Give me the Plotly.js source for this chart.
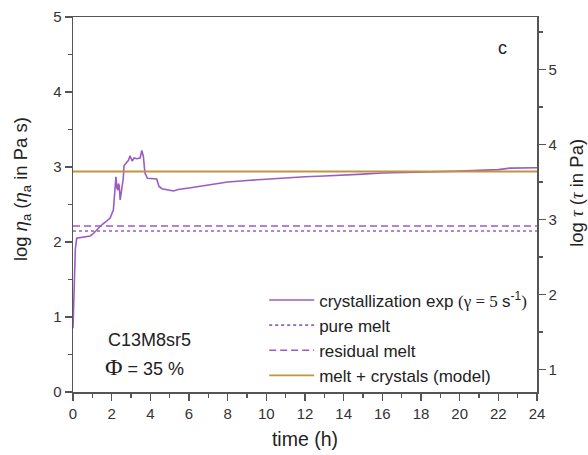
<!DOCTYPE html>
<html>
<head>
<meta charset="utf-8">
<script src="https://cdn.plot.ly/plotly-3.0.1.min.js"></script>
<style>html,body{margin:0;padding:0;background:#fff;}#plot{width:588px;height:455px;}</style>
</head>
<body>
<div id="plot"></div>
<script>
// time (h)
var timeH = [0, 0.05, 0.12, 0.19, 0.5, 0.88, 1.0, 1.23, 1.49, 1.7, 1.92, 2.09, 2.15, 2.22, 2.27, 2.32, 2.35, 2.39, 2.44, 2.52, 2.6, 2.64, 2.75, 2.87, 2.95, 3.06, 3.16, 3.3, 3.47, 3.56, 3.64, 3.72, 3.85, 4.1, 4.33, 4.45, 4.6, 5.2, 5.44, 6, 7, 8, 9, 10, 11, 12, 13, 14, 15, 16, 17, 18, 19, 20, 21, 22, 22.6, 23, 24];
// log eta_a, crystallization experiment
var logEtaExp = [0.85, 1.3, 1.9, 2.05, 2.06, 2.08, 2.10, 2.16, 2.23, 2.27, 2.32, 2.43, 2.6, 2.87, 2.72, 2.69, 2.78, 2.75, 2.56, 2.70, 2.85, 3.02, 3.05, 3.09, 3.15, 3.08, 3.12, 3.11, 3.12, 3.22, 3.14, 2.92, 2.85, 2.84, 2.84, 2.74, 2.71, 2.68, 2.70, 2.72, 2.76, 2.80, 2.82, 2.84, 2.86, 2.87, 2.88, 2.89, 2.905, 2.92, 2.925, 2.93, 2.935, 2.945, 2.955, 2.965, 2.985, 2.985, 2.99];
var timeRange = [0, 24];
var pureMelt = 2.147;
var residualMelt = 2.213;
var meltCrystals = 2.94;
var shearRate = 5;

var purple = '#9b5cc2';
var gold = '#bf9642';
var serif = "'Liberation Serif', 'DejaVu Serif', serif";
var sans = "'Liberation Sans', Arial, sans-serif";

var traces = [
  {x: timeH, y: logEtaExp, mode: 'lines', line: {color: purple, width: 1.6},
   name: 'crystallization exp <span style="font-family:' + serif + ';">(γ = ' + shearRate + ' </span>s<sup>-1</sup><span style="font-family:' + serif + ';">)</span>'},
  {x: timeRange, y: [pureMelt, pureMelt], mode: 'lines', line: {color: purple, width: 1.6, dash: 'dot'}, name: 'pure melt'},
  {x: timeRange, y: [residualMelt, residualMelt], mode: 'lines', line: {color: purple, width: 1.6, dash: '7px,4px'}, name: 'residual melt'},
  {x: timeRange, y: [meltCrystals, meltCrystals], mode: 'lines', line: {color: gold, width: 1.8}, name: 'melt + crystals (model)'},
  {x: [0], y: [null], yaxis: 'y2', mode: 'lines', showlegend: false, hoverinfo: 'skip'}
];

var axisCol = '#555';
var tickFont = {family: sans, size: 15, color: '#333'};
var titleFont = {family: sans, size: 18.5, color: '#222'};

var layout = {
  width: 588, height: 455,
  margin: {l: 73, r: 51, t: 17, b: 63},
  paper_bgcolor: '#fff', plot_bgcolor: '#fff',
  showlegend: true,
  legend: {x: 0.412, xanchor: 'left', y: 0.292, yanchor: 'top', bgcolor: 'rgba(0,0,0,0)', itemwidth: 45,
           font: {family: sans, size: 17, color: '#222'}, tracegroupgap: 0},
  xaxis: {range: timeRange, dtick: 2, tick0: 0, showgrid: false, zeroline: false,
          showline: true, linecolor: axisCol, linewidth: 1.5, mirror: true,
          ticks: 'outside', ticklen: 7, tickwidth: 1.3, tickcolor: axisCol, tickfont: tickFont,
          minor: {dtick: 1, ticks: 'outside', ticklen: 4, tickcolor: axisCol, tickwidth: 1.3},
          title: {text: 'time (h)', font: {family: sans, size: 19.5, color: '#222'}, standoff: 12}},
  yaxis: {range: [0, 5], dtick: 1, showgrid: false, zeroline: false,
          showline: true, linecolor: axisCol, linewidth: 1.5,
          ticks: 'outside', ticklen: 7, tickwidth: 1.3, tickcolor: axisCol, tickfont: tickFont,
          minor: {dtick: 0.5, ticks: 'outside', ticklen: 4, tickcolor: axisCol, tickwidth: 1.3}},
  yaxis2: {overlaying: 'y', side: 'right', range: [Math.log10(shearRate), 5 + Math.log10(shearRate)], dtick: 1, tick0: 0,
           showgrid: false, zeroline: false, showline: true, linecolor: axisCol, linewidth: 1.5,
           ticks: 'outside', ticklen: 7, tickwidth: 1.3, tickcolor: axisCol, tickfont: tickFont,
           minor: {dtick: 0.5, ticks: 'outside', ticklen: 4, tickcolor: axisCol, tickwidth: 1.3}},
  annotations: [
    {xref: 'paper', yref: 'paper', x: -0.11, y: 0.541, xanchor: 'center', yanchor: 'middle', showarrow: false, textangle: -90,
     text: 'log <i>η</i><sub>a</sub> (<i>η</i><sub>a</sub> in Pa s)', font: titleFont},
    {xref: 'paper', yref: 'paper', x: 1.086, y: 0.531, xanchor: 'center', yanchor: 'middle', showarrow: false, textangle: -90,
     text: 'log <i style="font-family:' + serif + ';">τ</i> (<i style="font-family:' + serif + ';">τ</i> in Pa)', font: titleFont},
    {xref: 'paper', yref: 'paper', x: 0.071, y: 0.138, xanchor: 'left', yanchor: 'middle', showarrow: false,
     text: 'C13M8sr5', font: {family: sans, size: 18, color: '#222'}},
    {xref: 'paper', yref: 'paper', x: 0.064, y: 0.066, xanchor: 'left', yanchor: 'middle', showarrow: false,
     text: '<span style="font-family:' + serif + ';font-size:24px;">Φ</span> = 35 %', font: {family: sans, size: 18, color: '#222'}},
    {xref: 'paper', yref: 'paper', x: 0.925, y: 0.917, xanchor: 'center', yanchor: 'middle', showarrow: false,
     text: 'c', font: {family: sans, size: 18, color: '#222'}}
  ]
};

Plotly.newPlot('plot', traces, layout, {staticPlot: true});
</script>
</body>
</html>
